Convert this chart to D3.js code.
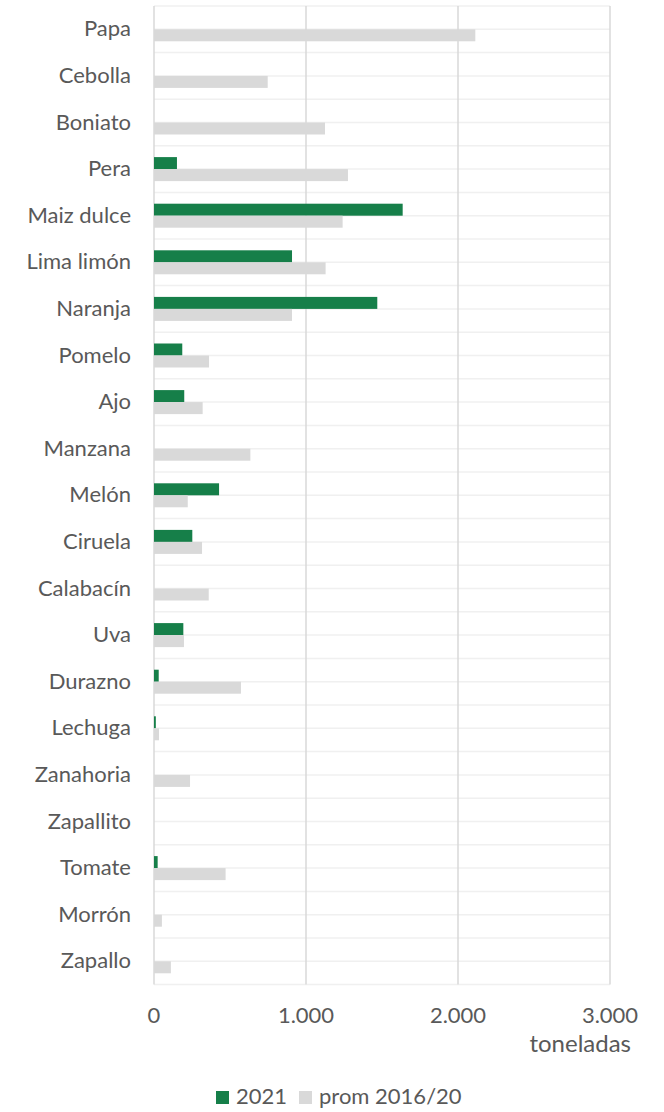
<!DOCTYPE html>
<html>
<head>
<meta charset="utf-8">
<script src="https://cdn.jsdelivr.net/npm/d3@7"></script>
<style>
  body { margin: 0; background: #ffffff; }
  text { font-family: Lato, "Open Sans", sans-serif; fill: #595959; }
</style>
</head>
<body>
<div id="chart"></div>
<script>
// categories, top to bottom
var categories = ["Papa", "Cebolla", "Boniato", "Pera", "Maiz dulce", "Lima limón", "Naranja",
  "Pomelo", "Ajo", "Manzana", "Melón", "Ciruela", "Calabacín", "Uva", "Durazno", "Lechuga",
  "Zanahoria", "Zapallito", "Tomate", "Morrón", "Zapallo"];

// toneladas 2021
var values2021 = [0, 0, 0, 151, 1636, 908, 1469, 186, 199, 0, 428, 252, 0, 193, 31, 12, 0, 0, 24, 0, 0];

// toneladas promedio 2016/20
var valuesProm = [2114, 748, 1125, 1276, 1241, 1129, 908, 362, 320, 634, 222, 316, 360, 197, 572, 33, 237, 0, 471, 52, 111];

var tickValues = [0, 1000, 2000, 3000];
var seriesNames = ["2021", "prom 2016/20"];
var seriesColors = ["#167f49", "#d9d9d9"];

// svg size and margins
var width = 664,
    height = 1112,
    margin = {top: 6, left: 154, right: 54, bottom: 127.4};

var svg = d3.select("#chart")
            .append("svg")
            .attr("width", width)
            .attr("height", height);

// scales
var x = d3.scaleLinear()
          .domain([0, 3000])
          .range([margin.left, width - margin.right]);

var y = d3.scaleBand()
          .domain(categories)
          .range([margin.top, height - margin.bottom]);

var bw = y.bandwidth();
var barH = 12;

var ySub = d3.scaleBand()
             .domain(seriesNames)
             .range([bw / 2 - barH, bw / 2 + barH]);

// horizontal light gridlines at band edges and centres
var hLines = [];
categories.forEach(function(c) {
  hLines.push(y(c));
  hLines.push(y(c) + bw / 2);
});
hLines.push(y(categories[categories.length - 1]) + bw);

svg.selectAll(".hgrid")
   .data(hLines)
   .enter()
   .append("line")
   .attr("class", "hgrid")
   .attr("x1", x(0))
   .attr("x2", x(3000))
   .attr("y1", function(d) { return d; })
   .attr("y2", function(d) { return d; })
   .attr("stroke", "#f0f0f0")
   .attr("stroke-width", 1.5);

// vertical gridlines
svg.selectAll(".vgrid")
   .data(tickValues)
   .enter()
   .append("line")
   .attr("class", "vgrid")
   .attr("x1", function(d) { return x(d); })
   .attr("x2", function(d) { return x(d); })
   .attr("y1", margin.top)
   .attr("y2", height - margin.bottom)
   .attr("stroke", "#d9d9d9")
   .attr("stroke-width", 1.5);

// bars
var rows = categories.map(function(c, i) {
  return {cat: c, vals: [values2021[i], valuesProm[i]]};
});

var groups = svg.selectAll(".row")
                .data(rows)
                .enter()
                .append("g")
                .attr("class", "row")
                .attr("transform", function(d) { return "translate(0," + y(d.cat) + ")"; });

groups.selectAll("rect")
      .data(function(d) {
        return d.vals.map(function(v, j) { return {name: seriesNames[j], value: v, color: seriesColors[j]}; });
      })
      .enter()
      .append("rect")
      .filter(function(d) { return d.value > 0; })
      .attr("x", x(0))
      .attr("y", function(d) { return ySub(d.name); })
      .attr("width", function(d) { return x(d.value) - x(0); })
      .attr("height", ySub.bandwidth())
      .attr("fill", function(d) { return d.color; });

// category labels
svg.selectAll(".cat")
   .data(categories)
   .enter()
   .append("text")
   .attr("class", "cat")
   .attr("x", 131)
   .attr("y", function(d) { return y(d) + bw / 2 + 7; })
   .attr("text-anchor", "end")
   .style("font-size", "22px")
   .text(function(d) { return d; });

// x tick labels
var fmt = function(d) { return d3.format(",")(d).replace(/,/g, "."); };

svg.selectAll(".tick-label")
   .data(tickValues)
   .enter()
   .append("text")
   .attr("class", "tick-label")
   .attr("x", function(d) { return x(d); })
   .attr("y", 1023)
   .attr("text-anchor", "middle")
   .style("font-size", "22px")
   .text(fmt);

// axis title
svg.append("text")
   .attr("x", 631)
   .attr("y", 1052)
   .attr("text-anchor", "end")
   .style("font-size", "24px")
   .text("toneladas");

// legend
var legendX = [216, 299];
var legend = svg.selectAll(".legend")
                .data(seriesNames)
                .enter()
                .append("g")
                .attr("class", "legend")
                .attr("transform", function(d, i) { return "translate(" + legendX[i] + ",1091)"; });

legend.append("rect")
      .attr("width", 13)
      .attr("height", 13)
      .attr("fill", function(d, i) { return seriesColors[i]; });

legend.append("text")
      .attr("x", 20)
      .attr("y", 13)
      .style("font-size", "22px")
      .text(function(d) { return d; });
</script>
</body>
</html>
